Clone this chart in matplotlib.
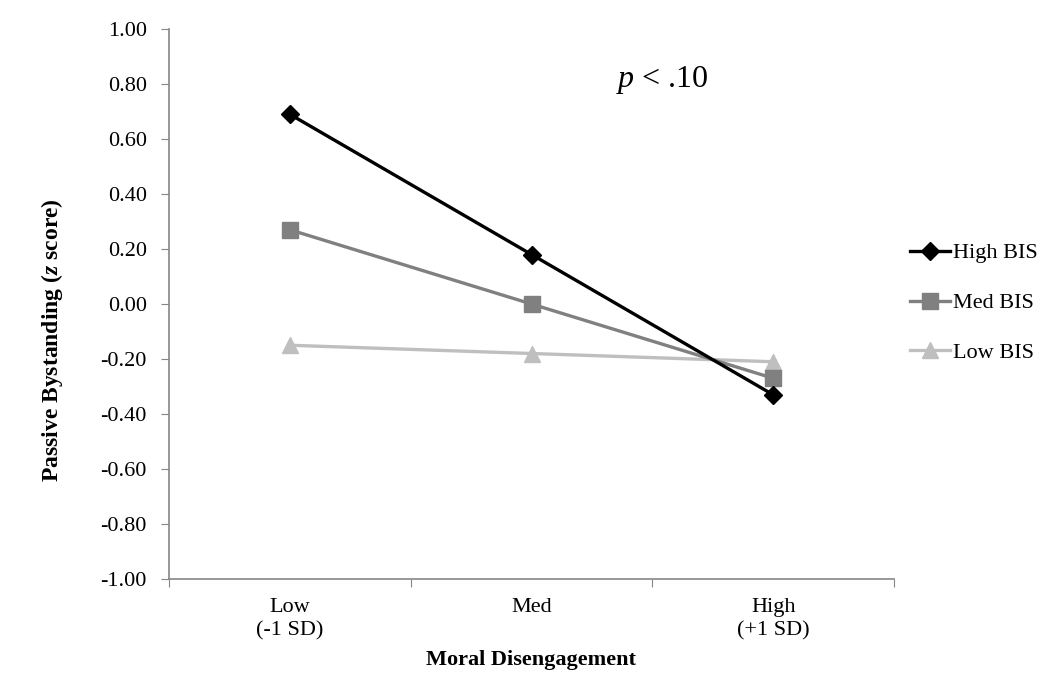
import matplotlib
matplotlib.use('Agg')
import matplotlib.pyplot as plt

plt.rcParams['font.family'] = ['Liberation Serif', 'DejaVu Serif']
plt.rcParams['axes.unicode_minus'] = False
plt.rcParams['mathtext.fontset'] = 'custom'
plt.rcParams['mathtext.rm'] = 'Liberation Serif'
plt.rcParams['mathtext.it'] = 'Liberation Serif:italic'
plt.rcParams['mathtext.bf'] = 'Liberation Serif:bold'
plt.rcParams['mathtext.bfit'] = 'Liberation Serif:italic:bold'

# data
categories = ['Low\n(-1 SD)', 'Med', 'High\n(+1 SD)']
high_bis = [0.69, 0.18, -0.33]
med_bis = [0.27, 0.00, -0.27]
low_bis = [-0.15, -0.18, -0.21]
y_ticks = [-1.0, -0.8, -0.6, -0.4, -0.2, 0.0, 0.2, 0.4, 0.6, 0.8, 1.0]

W, H = 1048, 682
fig = plt.figure(figsize=(W / 100, H / 100), dpi=100)
ax = fig.add_axes([169 / W, (H - 579) / H, (894 - 169) / W, (579 - 29) / H])

x = list(range(len(categories)))
ax.plot(x, low_bis, color='#bfbfbf', lw=2.4, marker='^', markersize=12, label='Low BIS', zorder=3)
ax.plot(x, med_bis, color='#808080', lw=2.4, marker='s', markersize=11, label='Med BIS', zorder=4)
ax.plot(x, high_bis, color='black', lw=2.4, marker='D', markersize=9, label='High BIS', zorder=5)

ax.set_xlim(-0.5, len(categories) - 0.5)
ax.set_ylim(-1.0, 1.0)
ax.set_yticks(y_ticks)
ax.set_yticklabels([f'{v:.2f}' for v in y_ticks])

# category boundaries carry the tick marks, labels sit at the centres
ax.set_xticks([i - 0.5 for i in range(len(categories) + 1)])
ax.set_xticklabels([])
ax.set_xticks(x, minor=True)
ax.set_xticklabels(categories, minor=True, fontsize=16, linespacing=1.25)
ax.tick_params(axis='x', which='minor', length=0, pad=14)
ax.tick_params(axis='x', which='major', length=6, color='#868686', direction='out')
ax.tick_params(axis='y', length=6, color='#868686', labelsize=16, pad=10)

for side in ['top', 'right']:
    ax.spines[side].set_visible(False)
for side in ['left', 'bottom']:
    ax.spines[side].set_color('#868686')
    ax.spines[side].set_linewidth(1.2)

ax.text(662 / W, (H - 80) / H, r'$p$ < .10', transform=fig.transFigure,
        fontsize=23, ha='center', va='center')

fig.text(531 / W, (H - 660) / H, 'Moral Disengagement', fontsize=16,
         fontweight='bold', ha='center', va='center')
fig.text(52 / W, (H - 340) / H, r'Passive Bystanding ($\mathbfit{z}$ score)',
         fontsize=17, fontweight='bold', rotation=90, ha='center', va='center')

handles, labels = ax.get_legend_handles_labels()
order = [2, 1, 0]
fig.legend([handles[i] for i in order], [labels[i] for i in order],
           loc='center left', bbox_to_anchor=(910 / W, (H - 303) / H),
           frameon=False, fontsize=16, handlelength=1.8, handletextpad=0.15,
           labelspacing=1.32, borderpad=0, borderaxespad=0)

fig.savefig('out.png', dpi=100)
